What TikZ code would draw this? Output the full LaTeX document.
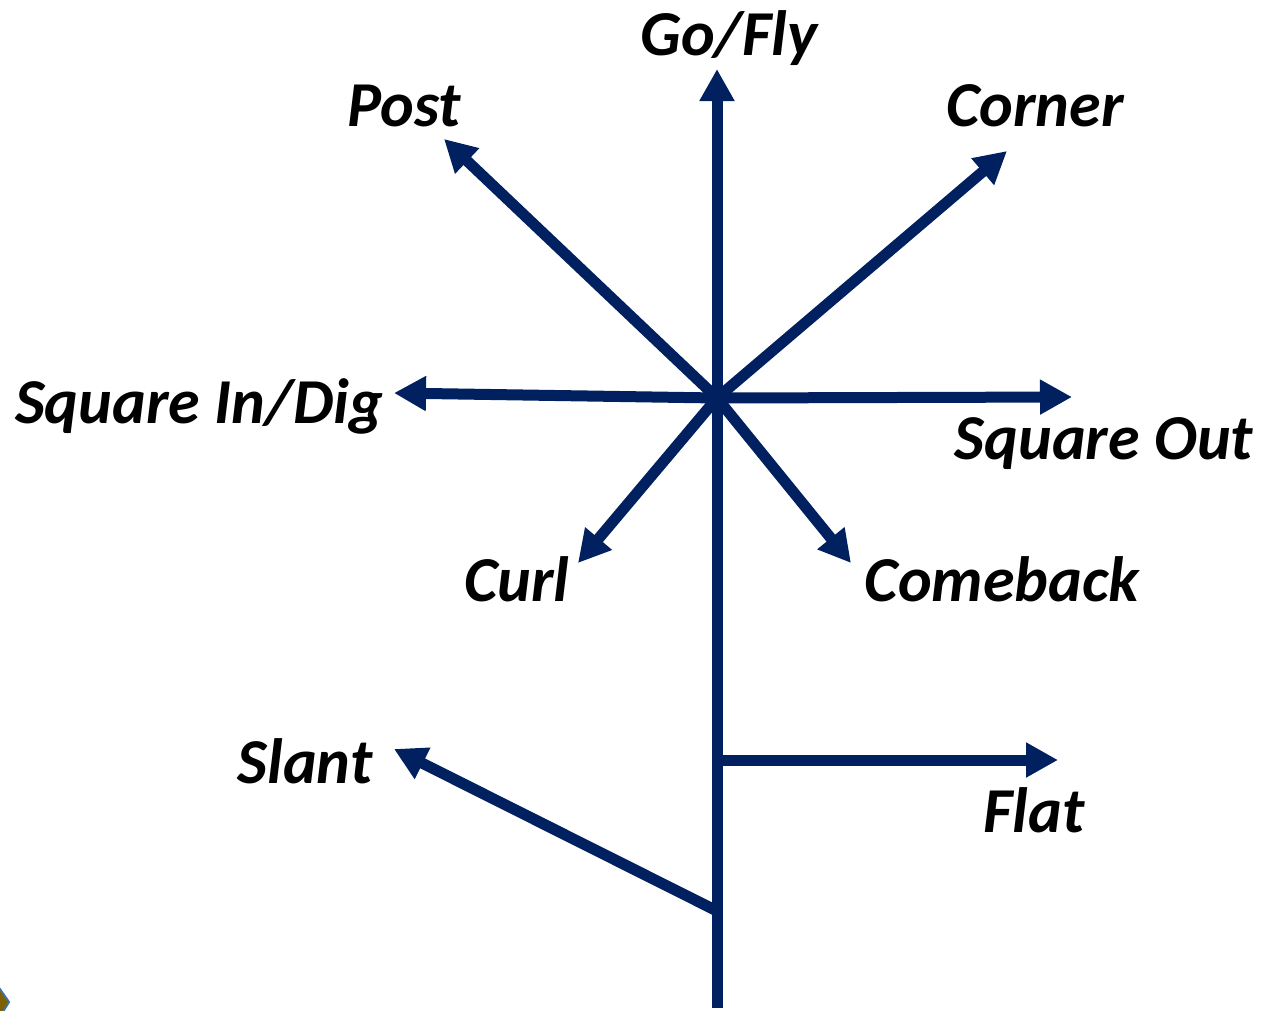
\documentclass[tikz,border=0pt]{standalone}
\usepackage{fontspec}
\setmainfont{Carlito}
\usetikzlibrary{arrows.meta}
\definecolor{navy}{RGB}{0,32,96}
\definecolor{tan}{RGB}{127,96,0}
\definecolor{edgeblue}{RGB}{65,113,156}
\tikzset{
 route/.style={draw=navy,line width=11pt,line cap=butt,-{Triangle[length=32pt,width=33pt]}},
 stem/.style={draw=navy,line width=11pt},
 lab/.style={font=\fontsize{64pt}{68pt}\selectfont\bfseries\itshape,text=black,inner sep=0pt,anchor=center},
}
\begin{document}
\begin{tikzpicture}[x=1pt,y=-1pt]
\useasboundingbox (0,0) rectangle (1264,1010);
\fill[white] (0,0) rectangle (1264,1010);
\coordinate (hub) at (717,398);
\coordinate (base) at (717,1008);
\coordinate (gotip) at (717,69);
\coordinate (posttip) at (444,139);
\coordinate (cornertip) at (1007,151);
\coordinate (intip) at (394,393);
\coordinate (outtip) at (1072,397);
\coordinate (curltip) at (578,563);
\coordinate (cometip) at (851,563);
\coordinate (slantfoot) at (717,911);
\coordinate (slanttip) at (394,749);
\coordinate (flatfoot) at (717,760);
\coordinate (flattip) at (1058,760);
\draw[stem] (base) -- (hub);
\draw[route] (hub) -- (gotip);
\draw[route] (hub) -- (posttip);
\draw[route] (hub) -- (cornertip);
\draw[route] (hub) -- (intip);
\draw[route] (hub) -- (outtip);
\draw[route] (hub) -- (curltip);
\draw[route] (hub) -- (cometip);
\draw[route] (slantfoot) -- (slanttip);
\draw[route] (flatfoot) -- (flattip);
\node[lab] (go) at (729,38) {Go/Fly};
\node[lab] (post) at (404,106) {Post};
\node[lab] (corner) at (1035,106) {Corner};
\node[lab] (in) at (199,406) {Square In/Dig};
\node[lab] (out) at (1104,444) {Square Out};
\node[lab] (curl) at (517,579) {Curl};
\node[lab] (come) at (1002,579) {Comeback};
\node[lab] (slant) at (305,761) {Slant};
\node[lab] (flat) at (1034,810) {Flat};
\filldraw[fill=tan,draw=edgeblue,line width=2pt] (-5,982) -- (9,1002) -- (1,1015) -- (-5,1015) -- cycle;
\end{tikzpicture}
\end{document}
